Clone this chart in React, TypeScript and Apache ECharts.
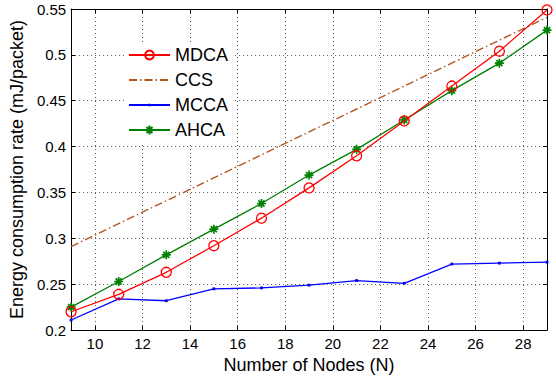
import { useEffect, useRef } from "react";
import * as echarts from "echarts";

// Number of nodes sampled along the x axis
const nodes = [9, 11, 13, 15, 17, 19, 21, 23, 25, 27, 29];

// Energy consumption rate (mJ/packet) per scheme
const mdca = [0.22, 0.239, 0.263, 0.292, 0.322, 0.355, 0.39, 0.428, 0.466, 0.504, 0.549];
const ccs = [0.291, 0.316, 0.341, 0.366, 0.391, 0.416, 0.441, 0.466, 0.491, 0.516, 0.541];
const mcca = [0.211, 0.234, 0.232, 0.245, 0.246, 0.249, 0.254, 0.251, 0.272, 0.273, 0.274];
const ahca = [0.225, 0.253, 0.282, 0.31, 0.338, 0.369, 0.397, 0.429, 0.461, 0.491, 0.527];

// Labelled x ticks
const xTicks = [10, 12, 14, 16, 18, 20, 22, 24, 26, 28];

const FONT = "'Liberation Sans', Arial, Helvetica, sans-serif";
// Eight-spoke asterisk marker
const ASTERISK = "path://M5,0L5,10M0,5L10,5M1.6,1.6L8.4,8.4M1.6,8.4L8.4,1.6";
// Small point marker centred inside a 10x10 box (so it stays small in the legend too)
const POINT = "path://M0,0M10,10M3.6,3.6L6.4,3.6L6.4,6.4L3.6,6.4Z";

const pairs = (ys: number[]) => nodes.map((x, i) => [x, ys[i]]);

export default function App() {
  const ref = useRef<HTMLDivElement>(null);

  useEffect(() => {
    if (!ref.current) return;
    const chart = echarts.init(ref.current, null, { renderer: "svg" });

    const gridLine = { show: true, lineStyle: { color: "#555", width: 1, type: [1, 3] as number[] } };
    const axisLine = { show: true, lineStyle: { color: "#000", width: 1 } };
    const tickIn = { show: true, inside: true, length: 4, lineStyle: { color: "#000", width: 1 } };

    chart.setOption({
      animation: false,
      backgroundColor: "#fff",
      textStyle: { fontFamily: FONT },
      grid: { left: 71, top: 9, right: 9, bottom: 48, containLabel: false },
      legend: {
        orient: "vertical",
        left: 124,
        top: 42,
        padding: 4,
        backgroundColor: "#fff",
        itemWidth: 41,
        itemHeight: 11,
        itemGap: 7,
        textStyle: { fontSize: 18, color: "#000", fontFamily: FONT },
        data: [
          "MDCA",
          { name: "CCS", itemStyle: { opacity: 0 } },
          "MCCA",
          "AHCA",
        ],
      },
      xAxis: [
        {
          type: "value",
          min: 9,
          max: 29,
          name: "Number of Nodes (N)",
          nameLocation: "middle",
          nameGap: 21,
          nameTextStyle: { fontSize: 18, color: "#000", fontFamily: FONT },
          axisLine,
          axisTick: { ...tickIn, customValues: xTicks },
          axisLabel: { customValues: xTicks, fontSize: 15, color: "#000", margin: 6, fontFamily: FONT },
          splitLine: gridLine,
        },
        {
          type: "value",
          position: "top",
          min: 9,
          max: 29,
          axisLine,
          axisTick: { ...tickIn, customValues: xTicks },
          axisLabel: { show: false, customValues: xTicks },
          splitLine: { show: false },
        },
      ],
      yAxis: [
        {
          type: "value",
          min: 0.2,
          max: 0.55,
          interval: 0.05,
          name: "Energy consumption rate (mJ/packet)",
          nameLocation: "middle",
          nameGap: 37,
          nameTextStyle: { fontSize: 18, color: "#000", fontFamily: FONT },
          axisLine,
          axisTick: tickIn,
          axisLabel: { fontSize: 15, color: "#000", margin: 5, fontFamily: FONT },
          splitLine: gridLine,
        },
        {
          type: "value",
          position: "right",
          min: 0.2,
          max: 0.55,
          interval: 0.05,
          axisLine,
          axisTick: tickIn,
          axisLabel: { show: false },
          splitLine: { show: false },
        },
      ],
      series: [
        {
          name: "MDCA",
          type: "line",
          data: pairs(mdca),
          symbol: "circle",
          symbolSize: 10,
          lineStyle: { color: "#ff0000", width: 1.3 },
          itemStyle: { color: "rgba(255,255,255,0)", borderColor: "#ff0000", borderWidth: 1.3 },
          z: 4,
        },
        {
          name: "CCS",
          type: "line",
          data: pairs(ccs),
          showSymbol: false,
          symbol: "circle",
          symbolSize: 0,
          lineStyle: { color: "#b3561f", width: 1.4, type: [8, 3, 1.5, 3] },
          itemStyle: { color: "#b3561f" },
          z: 2,
        },
        {
          name: "MCCA",
          type: "line",
          data: pairs(mcca),
          symbol: POINT,
          symbolSize: 10,
          lineStyle: { color: "#0000ff", width: 1.3 },
          itemStyle: { color: "#0000ff" },
          z: 3,
        },
        {
          name: "AHCA",
          type: "line",
          data: pairs(ahca),
          symbol: ASTERISK,
          symbolSize: 9,
          lineStyle: { color: "#008000", width: 1.3 },
          itemStyle: { color: "#008000", borderColor: "#008000", borderWidth: 1.7 },
          z: 3,
        },
      ],
    });

    return () => chart.dispose();
  }, []);

  return <div ref={ref} style={{ position: "absolute", left: 0, top: 0, width: 556, height: 379 }} />;
}
